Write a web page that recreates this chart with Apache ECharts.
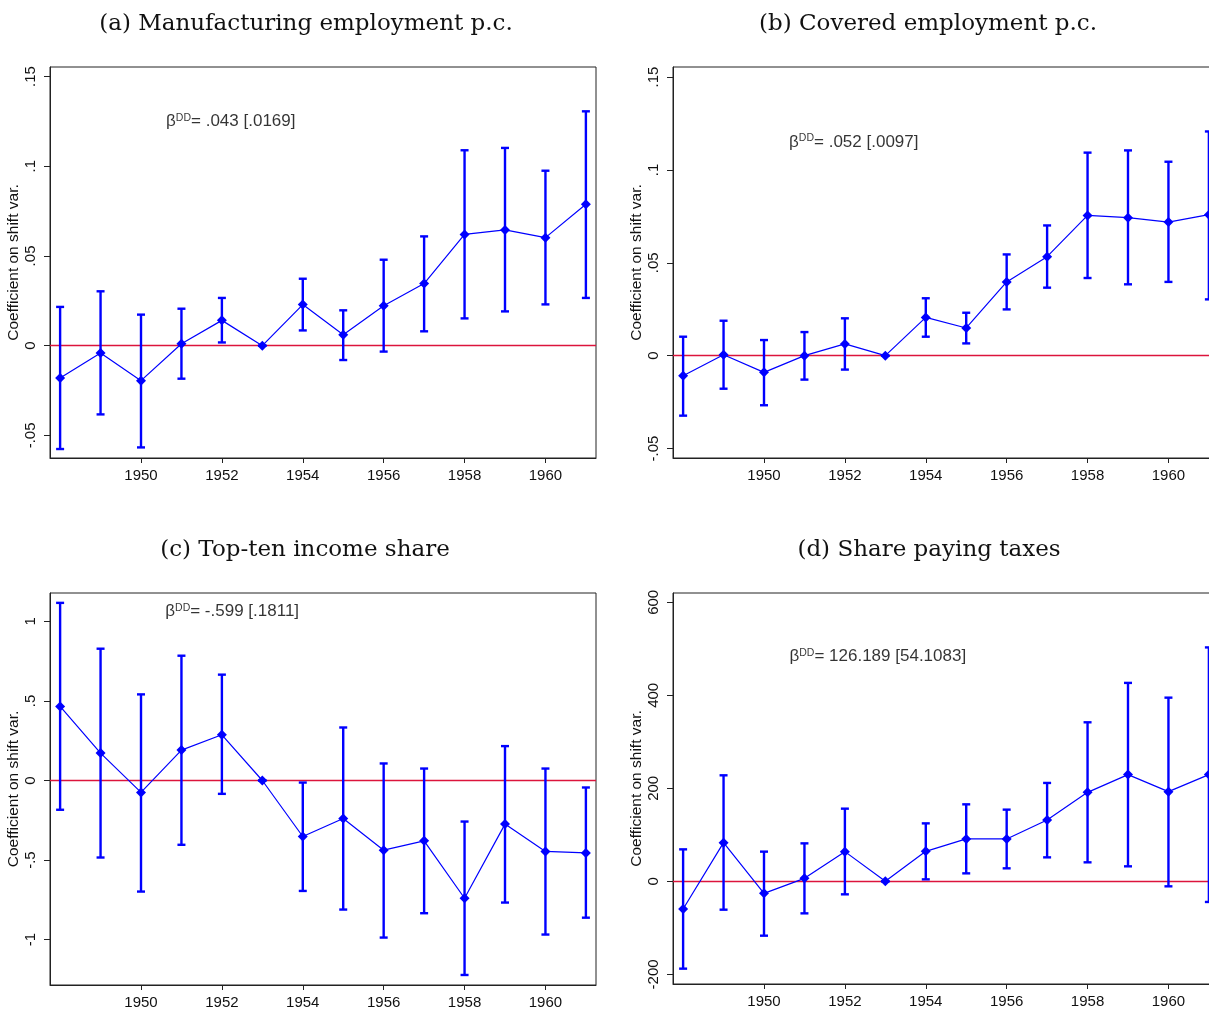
<!DOCTYPE html>
<html>
<head>
    <meta charset="utf-8">
    <title>Event study coefficients</title>
    <style>
        html, body {
            margin: 0;
            padding: 0;
            background: #fff;
            overflow: hidden;
        }
        /* a bit wider than the window: the right panels are cut off like in the paper */
        #chart {
            width: 1225px;
            height: 1010px;
        }
    </style>
</head>
<body>
    <div id="chart"></div>
    <script src="https://cdn.jsdelivr.net/npm/echarts@6/dist/echarts.min.js"></script>
    <script type="text/javascript">
        // ---- data ----
        var years = [1948, 1949, 1950, 1951, 1952, 1953, 1954, 1955, 1956, 1957, 1958, 1959, 1960, 1961];
        var yearTicks = [1950, 1952, 1954, 1956, 1958, 1960];

        var titles = ['(a) Manufacturing employment p.c.', '(b) Covered employment p.c.',
            '(c) Top-ten income share', '(d) Share paying taxes'];
        var notes = ['= .043 [.0169]', '= .052 [.0097]', '= -.599 [.1811]', '= 126.189 [54.1083]'];

        // (a) manufacturing employment
        var coefA = [-0.018, -0.0041, -0.0195, 0.0011, 0.0141, 0, 0.0229, 0.0061, 0.0223, 0.0346, 0.062, 0.0645, 0.0602, 0.0788];
        var hiA = [0.0216, 0.0303, 0.0173, 0.0206, 0.0266, 0, 0.0373, 0.0197, 0.0479, 0.0609, 0.1089, 0.1102, 0.0975, 0.1306];
        var loA = [-0.0576, -0.0383, -0.0567, -0.0184, 0.0018, 0, 0.0085, -0.008, -0.0033, 0.008, 0.0152, 0.0191, 0.023, 0.0266];
        var yTicksA = [-0.05, 0, 0.05, 0.1, 0.15];
        var yLabelsA = ['-.05', '0', '.05', '.1', '.15'];

        // (b) covered employment
        var coefB = [-0.0108, 0.0005, -0.009, 0, 0.0063, 0, 0.0206, 0.0149, 0.0397, 0.0533, 0.0755, 0.0743, 0.0719, 0.0759];
        var hiB = [0.0102, 0.0188, 0.0084, 0.0127, 0.0201, 0, 0.0309, 0.0231, 0.0545, 0.0701, 0.1093, 0.1105, 0.1044, 0.1207];
        var loB = [-0.0323, -0.0178, -0.0267, -0.0129, -0.0075, 0, 0.0102, 0.0066, 0.0249, 0.0366, 0.0418, 0.0384, 0.0397, 0.0303];
        var yTicksB = [-0.05, 0, 0.05, 0.1, 0.15];
        var yLabelsB = ['-.05', '0', '.05', '.1', '.15'];

        // (c) top-ten income share
        var coefC = [0.465, 0.172, -0.075, 0.191, 0.287, 0, -0.352, -0.239, -0.438, -0.379, -0.74, -0.274, -0.446, -0.455];
        var hiC = [1.116, 0.828, 0.541, 0.784, 0.665, 0, -0.013, 0.333, 0.107, 0.075, -0.258, 0.216, 0.075, -0.044];
        var loC = [-0.184, -0.484, -0.698, -0.404, -0.084, 0, -0.694, -0.811, -0.987, -0.834, -1.222, -0.767, -0.968, -0.862];
        var yTicksC = [-1, -0.5, 0, 0.5, 1];
        var yLabelsC = ['-1', '-.5', '0', '.5', '1'];

        // (d) share paying taxes
        var coefD = [-59.4, 83.2, -25.8, 6.5, 63.9, 0, 64.5, 91.2, 91.2, 132, 191.4, 229.5, 192.9, 229.5];
        var hiD = [68.8, 228, 63.9, 81.7, 156.3, 0, 124.7, 165.6, 154.2, 211.6, 342, 426.7, 395, 503];
        var loD = [-187.7, -60.9, -116.8, -68.8, -27.9, 0, 4.3, 17.2, 28, 51.6, 40.9, 32.3, -10.7, -44.3];
        var yTicksD = [-200, 0, 200, 400, 600];
        var yLabelsD = ['-200', '0', '200', '400', '600'];

        // where the beta note sits, in data units (year, value)
        var notePos = [[1950.62, 0.125], [1950.62, 0.115], [1950.6, 1.06], [1950.63, 483]];

        // ---- layout ----
        var panels = [
            { coef: coefA, hi: hiA, lo: loA, ticks: yTicksA, labels: yLabelsA, ymin: -0.0626, ymax: 0.1553,
              grid: { left: 50, top: 67, width: 546, height: 391 }, titleX: 301, titleY: 8 },
            { coef: coefB, hi: hiB, lo: loB, ticks: yTicksB, labels: yLabelsB, ymin: -0.0551, ymax: 0.1554,
              grid: { left: 673, top: 67, width: 546, height: 391 }, titleX: 923, titleY: 8 },
            { coef: coefC, hi: hiC, lo: loC, ticks: yTicksC, labels: yLabelsC, ymin: -1.285, ymax: 1.178,
              grid: { left: 50, top: 593, width: 546, height: 392 }, titleX: 300, titleY: 534 },
            { coef: coefD, hi: hiD, lo: loD, ticks: yTicksD, labels: yLabelsD, ymin: -220.7, ymax: 620,
              grid: { left: 673, top: 593, width: 546, height: 391 }, titleX: 924, titleY: 534 }
        ];

        var blue = '#0000ff';
        var red = '#dc143c';
        var sans = 'Liberation Sans, Arial, sans-serif';

        var chart = echarts.init(document.getElementById('chart'));

        var option = {
            animation: false,
            backgroundColor: '#fff',
            title: [],
            grid: [],
            xAxis: [],
            yAxis: [],
            series: []
        };

        panels.forEach(function (p, i) {
            option.title.push({
                text: titles[i],
                left: p.titleX,
                top: p.titleY,
                textAlign: 'center',
                textStyle: { fontFamily: 'DejaVu Serif, Liberation Serif, serif', fontWeight: 'normal', fontSize: 23, color: '#111' }
            });

            option.grid.push(Object.assign({ show: true, borderColor: '#222', borderWidth: 1, backgroundColor: '#fff' }, p.grid));

            option.xAxis.push({
                type: 'value',
                gridIndex: i,
                min: 1947.75,
                max: 1961.25,
                splitLine: { show: false },
                axisLine: { show: true, onZero: false, lineStyle: { color: '#222', width: 1 } },
                axisTick: { show: true, inside: false, length: 5, customValues: yearTicks, lineStyle: { color: '#222' } },
                axisLabel: {
                    customValues: yearTicks,
                    margin: 10,
                    color: '#111',
                    fontFamily: sans,
                    fontSize: 15,
                    formatter: function (v) { return String(v); }
                }
            });

            option.yAxis.push({
                type: 'value',
                gridIndex: i,
                min: p.ymin,
                max: p.ymax,
                name: 'Coefficient on shift var.',
                nameLocation: 'middle',
                nameGap: 28,
                nameRotate: 90,
                nameTextStyle: { fontFamily: sans, fontSize: 15.5, color: '#111' },
                splitLine: { show: false },
                axisLine: { show: true, onZero: false, lineStyle: { color: '#222', width: 1 } },
                axisTick: { show: true, inside: false, length: 6, customValues: p.ticks, lineStyle: { color: '#222' } },
                axisLabel: {
                    customValues: p.ticks,
                    rotate: 90,
                    margin: 12,
                    color: '#111',
                    fontFamily: sans,
                    fontSize: 15,
                    formatter: function (v) {
                        for (var k = 0; k < p.ticks.length; k++) {
                            if (Math.abs(p.ticks[k] - v) < 1e-9) return p.labels[k];
                        }
                        return '';
                    }
                }
            });

            // confidence intervals
            var ciData = years.map(function (y, k) { return [y, p.lo[k], p.hi[k]]; });
            option.series.push({
                type: 'custom',
                xAxisIndex: i,
                yAxisIndex: i,
                data: ciData,
                z: 3,
                renderItem: function (params, api) {
                    var x = api.value(0);
                    var lo = api.coord([x, api.value(1)]);
                    var hi = api.coord([x, api.value(2)]);
                    var cap = 4;
                    var style = { stroke: blue, lineWidth: 2.4 };
                    return {
                        type: 'group',
                        children: [
                            { type: 'line', shape: { x1: lo[0], y1: lo[1], x2: hi[0], y2: hi[1] }, style: style },
                            { type: 'line', shape: { x1: hi[0] - cap, y1: hi[1], x2: hi[0] + cap, y2: hi[1] }, style: style },
                            { type: 'line', shape: { x1: lo[0] - cap, y1: lo[1], x2: lo[0] + cap, y2: lo[1] }, style: style }
                        ]
                    };
                }
            });

            // point estimates + zero line
            option.series.push({
                type: 'line',
                xAxisIndex: i,
                yAxisIndex: i,
                data: years.map(function (y, k) { return [y, p.coef[k]]; }),
                symbol: 'diamond',
                symbolSize: 10,
                showAllSymbol: true,
                z: 4,
                lineStyle: { color: blue, width: 1.2 },
                itemStyle: { color: blue },
                markLine: {
                    silent: true,
                    symbol: ['none', 'none'],
                    label: { show: false },
                    lineStyle: { color: red, width: 1.3, type: 'solid' },
                    data: [{ yAxis: 0 }],
                    z: 2
                }
            });

            // beta note
            option.series.push({
                type: 'scatter',
                xAxisIndex: i,
                yAxisIndex: i,
                data: [notePos[i]],
                symbolSize: 0,
                silent: true,
                label: {
                    show: true,
                    position: 'right',
                    distance: 0,
                    formatter: '{b|β}{s|DD}{b|' + notes[i] + '}',
                    rich: {
                        b: { fontFamily: sans, fontSize: 17, color: '#000', lineHeight: 20 },
                        s: { fontFamily: sans, fontSize: 10.5, color: '#000', lineHeight: 20, verticalAlign: 'top', padding: [1, 0, 0, 0] }
                    }
                }
            });
        });

        chart.setOption(option);
    </script>
</body>
</html>
